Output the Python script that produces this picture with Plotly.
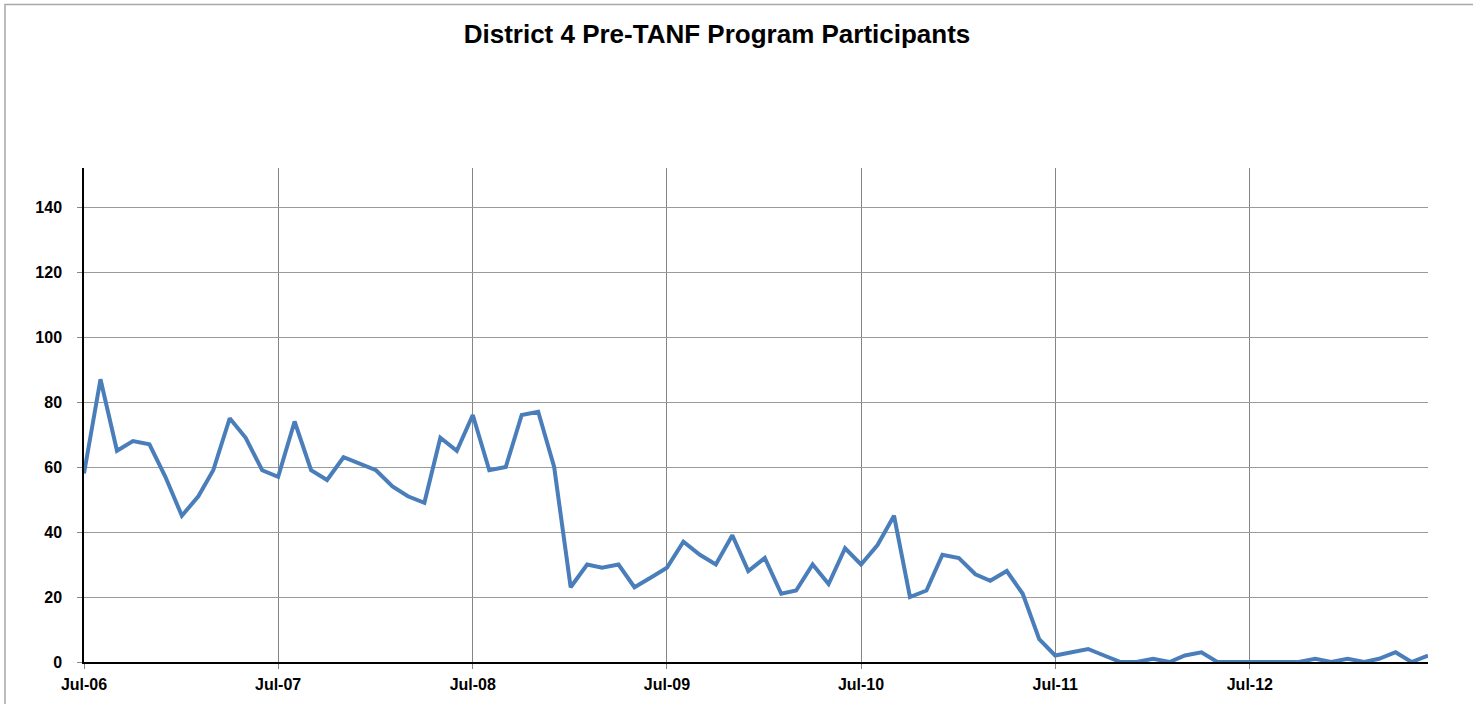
import plotly.graph_objects as go
import pandas as pd

start_month = "2006-07-01"
months = pd.date_range(start_month, periods=84, freq="MS").strftime("%Y-%m-%d").tolist()

participants = [
    58, 87, 65, 68, 67, 57, 45, 51, 59, 75, 69, 59,   # Jul-06 .. Jun-07
    57, 74, 59, 56, 63, 61, 59, 54, 51, 49, 69, 65,   # Jul-07 .. Jun-08
    76, 59, 60, 76, 77, 60, 23, 30, 29, 30, 23, 26,   # Jul-08 .. Jun-09
    29, 37, 33, 30, 39, 28, 32, 21, 22, 30, 24, 35,   # Jul-09 .. Jun-10
    30, 36, 45, 20, 22, 33, 32, 27, 25, 28, 21, 7,    # Jul-10 .. Jun-11
    2, 3, 4, 2, 0, 0, 1, 0, 2, 3, 0, 0,               # Jul-11 .. Jun-12
    0, 0, 0, 0, 1, 0, 1, 0, 1, 3, 0, 2,               # Jul-12 .. Jun-13
]

title_text = "District 4 Pre-TANF Program Participants"
y_ticks = [0, 20, 40, 60, 80, 100, 120, 140]

W, H = 1473, 704
L, R, T, B = 84, 45, 168, 42
pw, ph = W - L - R, H - T - B

def px_x(p):
    return (p - L) / pw

def px_y(p):
    return (H - B - p) / ph

FONT = "Liberation Sans, Arial, sans-serif"

fig = go.Figure()
fig.add_trace(go.Scatter(
    x=months, y=participants, mode="lines",
    line=dict(color="#4A7EBB", width=4),
    hoverinfo="x+y",
))

fig.update_layout(
    width=W, height=H,
    margin=dict(l=L, r=R, t=T, b=B),
    paper_bgcolor="white", plot_bgcolor="white",
    showlegend=False,
    font=dict(family=FONT, color="black"),
    title=dict(
        text=title_text,
        x=717 / W, xanchor="center",
        y=1 - 34 / H, yanchor="middle",
        font=dict(size=26, color="black", family=FONT, weight="bold"),
    ),
    xaxis=dict(
        type="date",
        range=[months[0], months[-1]],
        tick0=start_month, dtick="M12",
        tickformat="%b-%y",
        showgrid=True, gridcolor="#858585", gridwidth=1,
        showline=True, linecolor="black", linewidth=1.5,
        ticks="outside", ticklen=5, tickcolor="#858585",
        ticklabelstandoff=2,
        tickfont=dict(size=16, family=FONT, weight="bold", color="black"),
        zeroline=False,
    ),
    yaxis=dict(
        range=[0, 152],
        tickvals=y_ticks,
        showgrid=True, gridcolor="#9a9a9a", gridwidth=1,
        showline=True, linecolor="black", linewidth=1.5,
        ticks="outside", ticklen=5, tickcolor="#858585",
        ticklabelstandoff=12,
        tickfont=dict(size=16, family=FONT, weight="bold", color="black"),
        zeroline=False,
    ),
)

# chart border (outer frame)
fig.add_shape(
    type="rect", xref="paper", yref="paper",
    x0=px_x(5), x1=px_x(W + 10), y0=px_y(H + 10), y1=px_y(4.5),
    line=dict(color="#a8a8a8", width=1.5), fillcolor="rgba(0,0,0,0)",
    layer="below",
)

fig.write_html(
    "out.html",
    config={"displayModeBar": False},
    post_script="document.body.style.margin='0px';document.body.style.overflow='hidden';",
)
